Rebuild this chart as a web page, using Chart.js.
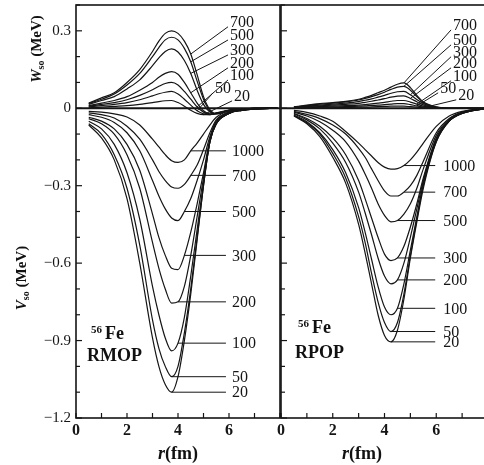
<!DOCTYPE html>
<html><head><meta charset="utf-8">
<script src="https://cdn.jsdelivr.net/npm/chart.js@4.4.0/dist/chart.umd.min.js"></script>
<style>
html,body{margin:0;padding:0;background:#fff;width:484px;height:465px;overflow:hidden;}
#wrap{position:relative;width:484px;height:465px;overflow:hidden;background:#fff;}
canvas{position:absolute;left:0;top:0;}
.t{position:absolute;font-family:'Liberation Serif','DejaVu Serif',serif;color:#111;white-space:nowrap;line-height:1;}
.ylab{font-size:15px;font-weight:bold;transform:translate(-50%,-50%) rotate(-90deg);}
.ylab sub{font-size:10px;vertical-align:-3px;}
.xlab{font-size:18px;font-weight:bold;transform:translate(-50%,-50%);}
.nuc{font-size:18px;font-weight:bold;}
.nuc sup{font-size:11px;vertical-align:6px;margin-right:3px;}
</style></head><body>
<div id="wrap">
<canvas id="cL" width="281" height="465"></canvas>
<canvas id="cR" width="495" height="465"></canvas>
<div class="t ylab" style="left:37px;top:49px;"><i>W</i><sub>so</sub> (MeV)</div>
<div class="t ylab" style="left:22px;top:278px;"><i>V</i><sub>so</sub> (MeV)</div>
<div class="t xlab" style="left:178px;top:453px;"><i>r</i>(fm)</div>
<div class="t xlab" style="left:362px;top:453px;"><i>r</i>(fm)</div>
<div class="t nuc" style="left:91px;top:324px;"><sup>56</sup>Fe</div>
<div class="t nuc" style="left:87px;top:346px;">RMOP</div>
<div class="t nuc" style="left:298px;top:318px;"><sup>56</sup>Fe</div>
<div class="t nuc" style="left:295px;top:343px;">RPOP</div>
</div>
<script>
// ---------- tick labels ----------
const yTickValues = [0.3, 0, -0.3, -0.6, -0.9, -1.2];
const xTickLabelsLeft  = [0, 2, 4, 6];
const xTickLabelsRight = [0, 2, 4, 6, 8];

// ---------- radial grids (fm) ----------
const rLeft  = [0.5,1,1.5,2,2.5,3,3.25,3.5,3.75,4,4.25,4.5,4.75,5,5.25,5.5,6,6.5,7,7.9];
const rRight = [0.5,1,1.5,2,2.5,3,3.25,3.5,3.75,4,4.25,4.5,4.75,5,5.25,5.5,6,6.5,7,8];

// ---------- energies (MeV) ----------
const energiesV = ['1000','700','500','300','200','100','50','20'];
const energiesW = ['700','500','300','200','100','50','20'];

// ---------- RMOP : V_so ----------
const rmopV1000 = [-0.012,-0.015,-0.022,-0.034,-0.065,-0.12,-0.15,-0.18,-0.203,-0.21,-0.20,-0.165,-0.135,-0.10,-0.065,-0.035,-0.01,-0.004,-0.001,0];
const rmopV700  = [-0.018,-0.025,-0.038,-0.07,-0.12,-0.20,-0.245,-0.28,-0.305,-0.31,-0.295,-0.26,-0.22,-0.16,-0.095,-0.045,-0.014,-0.005,-0.002,0];
const rmopV500  = [-0.025,-0.035,-0.055,-0.095,-0.165,-0.28,-0.34,-0.39,-0.425,-0.435,-0.40,-0.35,-0.28,-0.20,-0.11,-0.05,-0.016,-0.006,-0.002,0];
const rmopV300  = [-0.035,-0.05,-0.08,-0.14,-0.24,-0.41,-0.50,-0.57,-0.62,-0.625,-0.57,-0.48,-0.37,-0.25,-0.12,-0.055,-0.018,-0.007,-0.003,0];
const rmopV200  = [-0.04,-0.06,-0.10,-0.18,-0.31,-0.52,-0.62,-0.70,-0.755,-0.75,-0.69,-0.57,-0.42,-0.27,-0.13,-0.06,-0.02,-0.008,-0.003,0];
const rmopV100  = [-0.05,-0.08,-0.14,-0.25,-0.43,-0.69,-0.80,-0.89,-0.94,-0.91,-0.81,-0.65,-0.47,-0.29,-0.13,-0.06,-0.02,-0.008,-0.003,0];
const rmopV50   = [-0.06,-0.10,-0.18,-0.31,-0.53,-0.82,-0.93,-1.00,-1.04,-1.00,-0.87,-0.70,-0.50,-0.30,-0.13,-0.06,-0.02,-0.008,-0.003,0];
const rmopV20   = [-0.065,-0.115,-0.20,-0.35,-0.60,-0.89,-1.00,-1.07,-1.10,-1.04,-0.90,-0.72,-0.51,-0.30,-0.13,-0.06,-0.02,-0.008,-0.003,0];

// ---------- RMOP : W_so ----------
const rmopW700 = [0.02,0.04,0.06,0.10,0.15,0.22,0.26,0.29,0.30,0.29,0.26,0.21,0.13,0.045,-0.005,-0.02,-0.01,-0.003,0,0];
const rmopW500 = [0.018,0.035,0.055,0.09,0.135,0.20,0.235,0.265,0.275,0.265,0.232,0.18,0.105,0.035,-0.01,-0.022,-0.01,-0.003,0,0];
const rmopW300 = [0.015,0.03,0.045,0.075,0.11,0.165,0.195,0.22,0.23,0.218,0.185,0.135,0.07,0.015,-0.015,-0.022,-0.009,-0.003,0,0];
const rmopW200 = [0.01,0.02,0.03,0.045,0.07,0.10,0.12,0.135,0.142,0.132,0.10,0.06,0.02,-0.01,-0.022,-0.02,-0.008,-0.003,0,0];
const rmopW100 = [0.008,0.015,0.022,0.033,0.05,0.072,0.085,0.096,0.10,0.09,0.065,0.035,0.005,-0.015,-0.025,-0.02,-0.008,-0.003,0,0];
const rmopW50  = [0.005,0.01,0.015,0.022,0.033,0.048,0.056,0.062,0.065,0.055,0.035,0.012,-0.01,-0.022,-0.025,-0.02,-0.008,-0.003,0,0];
const rmopW20  = [0.002,0.004,0.007,0.01,0.015,0.022,0.026,0.029,0.03,0.022,0.008,-0.008,-0.02,-0.025,-0.024,-0.018,-0.007,-0.002,0,0];

// ---------- RPOP : V_so ----------
const rpopV1000 = [-0.008,-0.016,-0.03,-0.05,-0.09,-0.135,-0.16,-0.185,-0.21,-0.228,-0.236,-0.234,-0.222,-0.20,-0.17,-0.135,-0.07,-0.03,-0.012,0];
const rpopV700  = [-0.012,-0.024,-0.04,-0.065,-0.10,-0.155,-0.19,-0.235,-0.28,-0.32,-0.34,-0.34,-0.325,-0.30,-0.26,-0.205,-0.095,-0.04,-0.015,0];
const rpopV500  = [-0.015,-0.03,-0.052,-0.085,-0.13,-0.205,-0.255,-0.31,-0.37,-0.415,-0.44,-0.435,-0.41,-0.37,-0.31,-0.235,-0.105,-0.043,-0.016,0];
const rpopV300  = [-0.02,-0.04,-0.07,-0.115,-0.18,-0.28,-0.35,-0.425,-0.50,-0.565,-0.59,-0.58,-0.535,-0.46,-0.37,-0.27,-0.115,-0.046,-0.017,0];
const rpopV200  = [-0.022,-0.045,-0.08,-0.135,-0.21,-0.325,-0.405,-0.49,-0.58,-0.65,-0.68,-0.665,-0.60,-0.50,-0.39,-0.28,-0.12,-0.048,-0.018,0];
const rpopV100  = [-0.026,-0.052,-0.095,-0.16,-0.25,-0.385,-0.48,-0.585,-0.69,-0.77,-0.80,-0.775,-0.68,-0.55,-0.42,-0.29,-0.125,-0.05,-0.02,0];
const rpopV50   = [-0.028,-0.056,-0.10,-0.175,-0.27,-0.42,-0.52,-0.64,-0.75,-0.83,-0.865,-0.83,-0.72,-0.57,-0.43,-0.30,-0.13,-0.05,-0.02,0];
const rpopV20   = [-0.03,-0.06,-0.11,-0.19,-0.29,-0.45,-0.56,-0.68,-0.80,-0.88,-0.905,-0.86,-0.74,-0.58,-0.44,-0.31,-0.13,-0.05,-0.02,0];

// ---------- RPOP : W_so ----------
const rpopW700 = [0.005,0.012,0.018,0.022,0.027,0.035,0.042,0.05,0.06,0.07,0.082,0.093,0.098,0.08,0.05,0.025,0.005,0,0,0];
const rpopW500 = [0.005,0.01,0.016,0.02,0.025,0.032,0.038,0.045,0.053,0.062,0.073,0.082,0.085,0.07,0.045,0.022,0.005,0,0,0];
const rpopW300 = [0.004,0.008,0.012,0.016,0.02,0.026,0.031,0.036,0.043,0.05,0.058,0.064,0.065,0.052,0.034,0.018,0.004,0,0,0];
const rpopW200 = [0.003,0.006,0.009,0.012,0.015,0.019,0.023,0.027,0.032,0.037,0.043,0.047,0.048,0.038,0.025,0.013,0.003,0,0,0];
const rpopW100 = [0.002,0.004,0.006,0.008,0.01,0.012,0.014,0.017,0.02,0.023,0.027,0.03,0.03,0.024,0.016,0.008,0.002,0,0,0];
const rpopW50  = [0.001,0.002,0.004,0.005,0.006,0.008,0.009,0.011,0.012,0.014,0.016,0.018,0.018,0.014,0.009,0.005,0.001,0,0,0];
const rpopW20  = [0,0.001,0.002,0.002,0.003,0.004,0.004,0.005,0.006,0.007,0.008,0.008,0.008,0.006,0.004,0.002,0,0,0,0];

// ---------- curve-label annotations (data coords) ----------
const rmopVLeaderR = [4.5,4.5,4.25,4.25,4.0,4.0,3.75,3.75];
const rmopVLeaderEndR = 5.88, rmopVLabelR = 6.12;
const rmopWLeaderR = [4.5,4.5,4.5,4.5,4.75,4.75,5.0];
const rmopWLabelR  = [6.04,6.04,6.04,6.04,6.04,5.45,6.2];
const rmopWLabelV  = [0.335,0.284,0.226,0.176,0.129,0.079,0.048];

const rpopVLeaderR = [4.75,4.75,4.5,4.5,4.5,4.5,4.25,4.25];
const rpopVLeaderEndR = 5.96, rpopVLabelR = 6.27;
const rpopWLeaderR = [4.75,4.75,5.0,5.0,5.25,5.25,5.5];
const rpopWLabelR  = [6.65,6.65,6.65,6.65,6.65,6.15,6.85];
const rpopWLabelV  = [0.323,0.265,0.219,0.176,0.126,0.079,0.052];

const INK = '#151515';
const FONT = "'Liberation Serif','DejaVu Serif',serif";

function pts(r, vals){ return r.map((x,i)=>({x:x, y:vals[i]})); }
function ds(r, vals){
  return {data: pts(r, vals), borderColor: INK, borderWidth: 1.2, pointRadius: 0,
          fill: false, cubicInterpolationMode: 'monotone'};
}

function annotPlugin(p){
  return {
    id: 'annot',
    afterDraw(chart){
      const {ctx, chartArea:a, scales:{x, y}} = chart;
      const seg=(x1,y1,x2,y2)=>{ctx.beginPath();ctx.moveTo(x1,y1);ctx.lineTo(x2,y2);ctx.stroke();};
      ctx.save();
      ctx.strokeStyle = INK; ctx.fillStyle = INK;
      ctx.lineWidth = 1.2;
      y.ticks.forEach(t=>{
        const v = t.value;
        if (Math.abs(v*10 - Math.round(v*10)) > 1e-6) return;
        const py = y.getPixelForValue(v);
        const major = yTickValues.some(m=>Math.abs(m-v)<1e-6);
        seg(a.left, py, a.left + (major?6:4), py);
      });
      x.ticks.forEach(t=>{
        const v = t.value;
        if (Math.abs(v - Math.round(v)) > 1e-6) return;
        const px = x.getPixelForValue(v);
        seg(px, a.bottom, px, a.bottom - 5);
      });
      ctx.lineWidth = 2;
      const y0 = y.getPixelForValue(0);
      seg(a.left, y0, a.right, y0);
      ctx.lineWidth = 1.6;
      ctx.strokeRect(a.left, a.top, a.right - a.left, a.bottom - a.top);
      ctx.font = '16px ' + FONT;
      ctx.textBaseline = 'middle'; ctx.textAlign = 'left';
      ctx.lineWidth = 1;
      energiesV.forEach((lab,i)=>{
        const r0 = p.vLeaderR[i];
        const v0 = p.vSeries[i][p.r.indexOf(r0)];
        const py = y.getPixelForValue(v0);
        seg(x.getPixelForValue(r0), py, x.getPixelForValue(p.vLeaderEndR), py);
        ctx.fillText(lab, x.getPixelForValue(p.vLabelR), py + 1);
      });
      energiesW.forEach((lab,i)=>{
        const r0 = p.wLeaderR[i];
        const v0 = p.wSeries[i][p.r.indexOf(r0)];
        const lx = x.getPixelForValue(p.wLabelR[i]);
        const ly = y.getPixelForValue(p.wLabelV[i]);
        seg(x.getPixelForValue(r0), y.getPixelForValue(v0), lx - 2, ly + 5);
        ctx.fillText(lab, lx, ly + 1);
      });
      ctx.restore();
    }
  };
}

function makeChart(id, r, vSeries, wSeries, p, showYLabels, xLabels, yWidth, padRight){
  const datasets = [];
  vSeries.forEach(s=>datasets.push(ds(r, s)));
  wSeries.forEach(s=>datasets.push(ds(r, s)));
  return new Chart(document.getElementById(id), {
    type: 'line',
    data: {datasets},
    options: {
      responsive: false, animation: false, devicePixelRatio: 1,
      layout: {padding: {top: 5, right: padRight, bottom: 0, left: 0}},
      plugins: {legend: {display: false}, tooltip: {enabled: false}},
      scales: {
        x: {
          type: 'linear', min: 0, max: 8,
          grid: {display: false, drawTicks: false}, border: {display: false},
          ticks: {stepSize: 1, autoSkip: false, maxRotation: 0, padding: 3, color: INK,
                  font: {family: FONT, size: 16, weight: 'bold'},
                  callback: v => xLabels.includes(v) ? String(v) : ''},
          afterFit: s => { s.height = 47; s.paddingLeft = 0; s.paddingRight = 0; }
        },
        y: {
          type: 'linear', min: -1.2, max: 0.4,
          grid: {display: false, drawTicks: false}, border: {display: false},
          ticks: {stepSize: 0.1, autoSkip: false, padding: 5, color: INK,
                  font: {family: FONT, size: 15},
                  callback: v => {
                    if (!showYLabels) return '';
                    const m = yTickValues.find(t=>Math.abs(t-v)<1e-6);
                    if (m === undefined) return '';
                    return m < 0 ? '\u2212' + Math.abs(m).toFixed(1) : (m === 0 ? '0' : m.toFixed(1));
                  }},
          afterFit: s => { s.width = yWidth; s.paddingTop = 0; s.paddingBottom = 0; }
        }
      }
    },
    plugins: [annotPlugin(p)]
  });
}

const rmopV = [rmopV1000, rmopV700, rmopV500, rmopV300, rmopV200, rmopV100, rmopV50, rmopV20];
const rmopW = [rmopW700, rmopW500, rmopW300, rmopW200, rmopW100, rmopW50, rmopW20];
const rpopV = [rpopV1000, rpopV700, rpopV500, rpopV300, rpopV200, rpopV100, rpopV50, rpopV20];
const rpopW = [rpopW700, rpopW500, rpopW300, rpopW200, rpopW100, rpopW50, rpopW20];

makeChart('cL', rLeft, rmopV, rmopW, {
  r: rLeft, vSeries: rmopV, wSeries: rmopW,
  vLeaderR: rmopVLeaderR, vLeaderEndR: rmopVLeaderEndR, vLabelR: rmopVLabelR,
  wLeaderR: rmopWLeaderR, wLabelR: rmopWLabelR, wLabelV: rmopWLabelV
}, true, xTickLabelsLeft, 76, 1);

makeChart('cR', rRight, rpopV, rpopW, {
  r: rRight, vSeries: rpopV, wSeries: rpopW,
  vLeaderR: rpopVLeaderR, vLeaderEndR: rpopVLeaderEndR, vLabelR: rpopVLabelR,
  wLeaderR: rpopWLeaderR, wLabelR: rpopWLabelR, wLabelV: rpopWLabelV
}, false, xTickLabelsRight, 281, 7);
</script>
</body></html>
